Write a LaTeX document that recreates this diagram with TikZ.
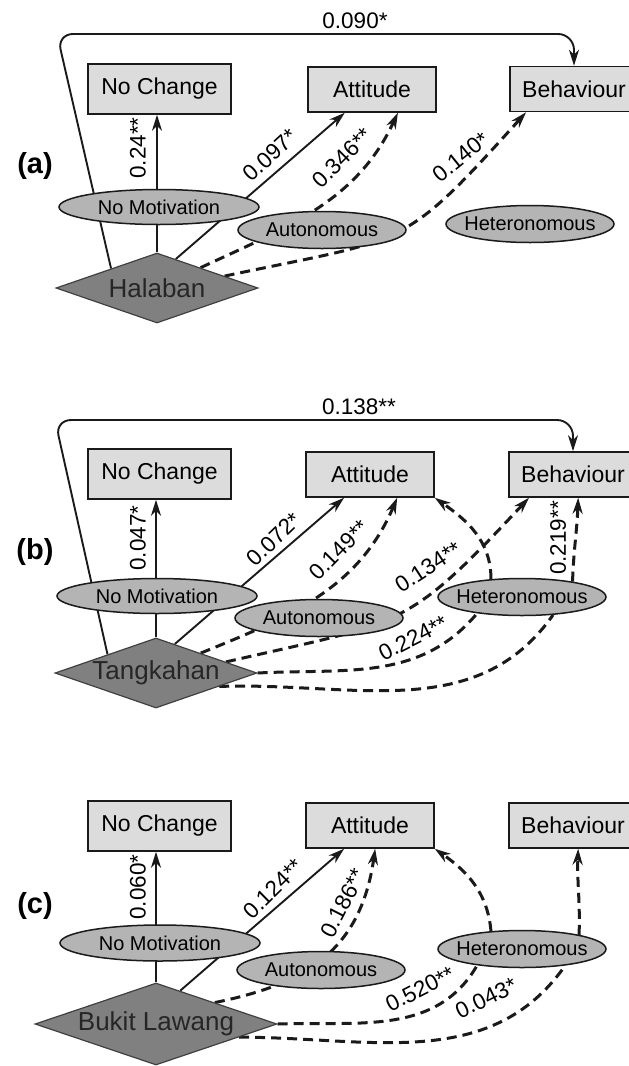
\documentclass[tikz,border=0pt]{standalone}
\usepackage{fontspec}
\setmainfont{Liberation Sans}
\usetikzlibrary{shapes.geometric,arrows.meta,calc}
\pgfdeclarelayer{bg}
\pgfsetlayers{bg,main}
\definecolor{boxfill}{HTML}{DCDCDC}
\definecolor{ellfill}{HTML}{B4B4B4}
\definecolor{diafill}{HTML}{808080}
\definecolor{ink}{HTML}{1A1A1A}
\newcommand{\zw}[1]{\makebox[0pt]{#1}}
\begin{document}
\begin{tikzpicture}[x=1pt,y=1pt,
  outcome/.style={rectangle,draw=ink,line width=1.5pt,fill=boxfill,inner sep=0pt,minimum width=128pt,minimum height=45pt,font=\fontsize{23}{23}\selectfont},
  motiv/.style={ellipse,draw=ink,line width=1.5pt,fill=ellfill,inner sep=0pt,minimum width=168pt,minimum height=37pt,font=\fontsize{20}{20}\selectfont},
  site/.style={diamond,draw=black!75,line width=1.2pt,fill=diafill,inner sep=0pt,text=black!85,font=\fontsize{26}{26}\selectfont},
  lab/.style={font=\fontsize{22.5}{22.5}\selectfont,inner sep=0pt},
  panel/.style={font=\fontsize{29}{29}\selectfont\bfseries,inner sep=0pt},
  sol/.style={draw=ink,line width=1.9pt},
  das/.style={draw=ink,line width=3pt,dash pattern=on 10pt off 6pt},
  tip/.style={-{Stealth[length=16pt,width=10pt,inset=5pt]}}
]
\useasboundingbox (0,0) rectangle (629,-1066);

% ---------------- panel (a) ----------------
\node[outcome,minimum width=143pt,minimum height=50pt] (ncA) at (159.5,-89) {No Change};
\node[outcome] (atA) at (372,-89.5) {Attitude};
\node[outcome] (beA) at (574,-89) {Behaviour};
\node[motiv,minimum width=200pt,minimum height=35pt] (nmA) at (159,-207) {\zw{No Motivation}};
\node[motiv] (auA) at (322,-230) {\zw{Autonomous}};
\node[motiv] (heA) at (530,-224) {\zw{Heteronomous}};
\node[site,minimum width=202pt,minimum height=70pt] (ha) at (157,-288) {\zw{Halaban}};
\node[panel] (pa) at (35,-166) {(a)};
\coordinate (cA) at (57,-34);
\node[lab,rotate=90] (lA1) at (138,-148) {0.24**};
\node[lab,rotate=42.6] (lA2) at (270,-155) {0.097*};
\node[lab,rotate=45] (lA3) at (342,-158) {0.346**};
\node[lab,rotate=39] (lA4) at (461,-157) {0.140*};
\node[lab] (lA5) at (355,-21) {0.090*};

% ---------------- panel (b) ----------------
\node[outcome,minimum width=143pt,minimum height=50pt] (ncB) at (159.5,-474) {No Change};
\node[outcome] (atB) at (370,-474.5) {Attitude};
\node[outcome] (beB) at (573,-474.5) {Behaviour};
\node[motiv,minimum width=200pt,minimum height=35pt] (nmB) at (157,-596) {\zw{No Motivation}};
\node[motiv] (auB) at (319,-618) {\zw{Autonomous}};
\node[motiv] (heB) at (522,-597) {\zw{Heteronomous}};
\node[site,minimum width=202pt,minimum height=70pt] (tk) at (156,-673) {\zw{Tangkahan}};
\node[panel] (pb) at (35,-552) {(b)};
\coordinate (cB) at (55,-420);
\node[lab,rotate=90] (lB1) at (138,-538) {0.047*};
\node[lab,rotate=44] (lB2) at (274,-539) {0.072*};
\node[lab,rotate=45.5] (lB3) at (339,-550) {0.149**};
\node[lab,rotate=33] (lB4) at (428,-567) {0.134**};
\node[lab,rotate=90] (lB5) at (558,-538) {0.219**};
\node[lab,rotate=27] (lB6) at (413,-638) {0.224**};
\node[lab] (lB7) at (359,-407) {0.138**};

% ---------------- panel (c) ----------------
\node[outcome,minimum width=143pt,minimum height=50pt] (ncC) at (159.5,-826) {No Change};
\node[outcome] (atC) at (370,-825.5) {Attitude};
\node[outcome] (beC) at (573,-825.5) {Behaviour};
\node[motiv,minimum width=200pt,minimum height=36pt] (nmC) at (160,-943) {\zw{No Motivation}};
\node[motiv] (auC) at (321,-970) {\zw{Autonomous}};
\node[motiv] (heC) at (522,-949) {\zw{Heteronomous}};
\node[site,minimum width=242pt,minimum height=82pt] (bl) at (156,-1024) {\zw{Bukit Lawang}};
\node[panel] (pc) at (35,-906) {(c)};
\node[lab,rotate=90] (lC1) at (138,-887) {0.060*};
\node[lab,rotate=44.5] (lC2) at (273,-889) {0.124**};
\node[lab,rotate=63] (lC3) at (343,-903) {0.186**};
\node[lab,rotate=27] (lC4) at (420,-989) {0.520**};
\node[lab,rotate=26] (lC5) at (486,-998) {0.043*};

\begin{pgfonlayer}{bg}
% (a)
\draw[sol,tip] (ha.north) -- (ha.north |- ncA.south);
\draw[sol,tip] (ha.57) -- ($(atA.south west)!0.29!(atA.south east)$);
\draw[das,tip] (ha.25) to[out=25,in=-115] ($(atA.south west)!0.70!(atA.south east)$);
\draw[das,tip] (ha.10) to[out=12,in=-132,looseness=1.4] ($(beA.south west)!0.13!(beA.south east)$);
\draw[sol,tip,rounded corners=16pt] (ha.157) -- (cA) -- (cA -| beA.north) -- (beA.north);
% (b)
\draw[sol,tip] (tk.north) -- (tk.north |- ncB.south);
\draw[sol,tip] (tk.57) -- ($(atB.south west)!0.30!(atB.south east)$);
\draw[das,tip] (tk.24) to[out=22,in=-113] ($(atB.south west)!0.71!(atB.south east)$);
\draw[das,tip] (tk.9) to[out=13,in=-133,looseness=1.35] ($(beB.south west)!0.16!(beB.south east)$);
\draw[das,tip] (heB.150) to[out=90,in=-35] (atB.south east);
\draw[das,tip] (heB.17) to[out=88,in=-92] ($(beB.south west)!0.54!(beB.south east)$);
\draw[das] (tk.east) to[out=3,in=-130] (heB.-160);
\draw[das] (tk.-12) to[out=2,in=-125] (heB.-30);
\draw[sol,tip,rounded corners=16pt] (tk.159) -- (cB) -- (cB -| beB.north) -- (beB.north);
% (c)
\draw[sol,tip] (bl.north) -- (bl.north |- ncC.south);
\draw[sol,tip] (bl.54) -- ($(atC.south west)!0.30!(atC.south east)$);
\draw[das,tip] (bl.20) .. controls (300,-985) and (360,-955) .. ($(atC.south west)!0.54!(atC.south east)$);
\draw[das,tip] (heC.150) to[out=95,in=-35] (atC.south east);
\draw[das,tip] (heC.14) to[out=88,in=-92] ($(beC.south west)!0.54!(beC.south east)$);
\draw[das] (bl.east) to[out=2,in=-120] (heC.-160);
\draw[das] (bl.-9) to[out=0,in=-125] (heC.-21);
\end{pgfonlayer}
\end{tikzpicture}
\end{document}
